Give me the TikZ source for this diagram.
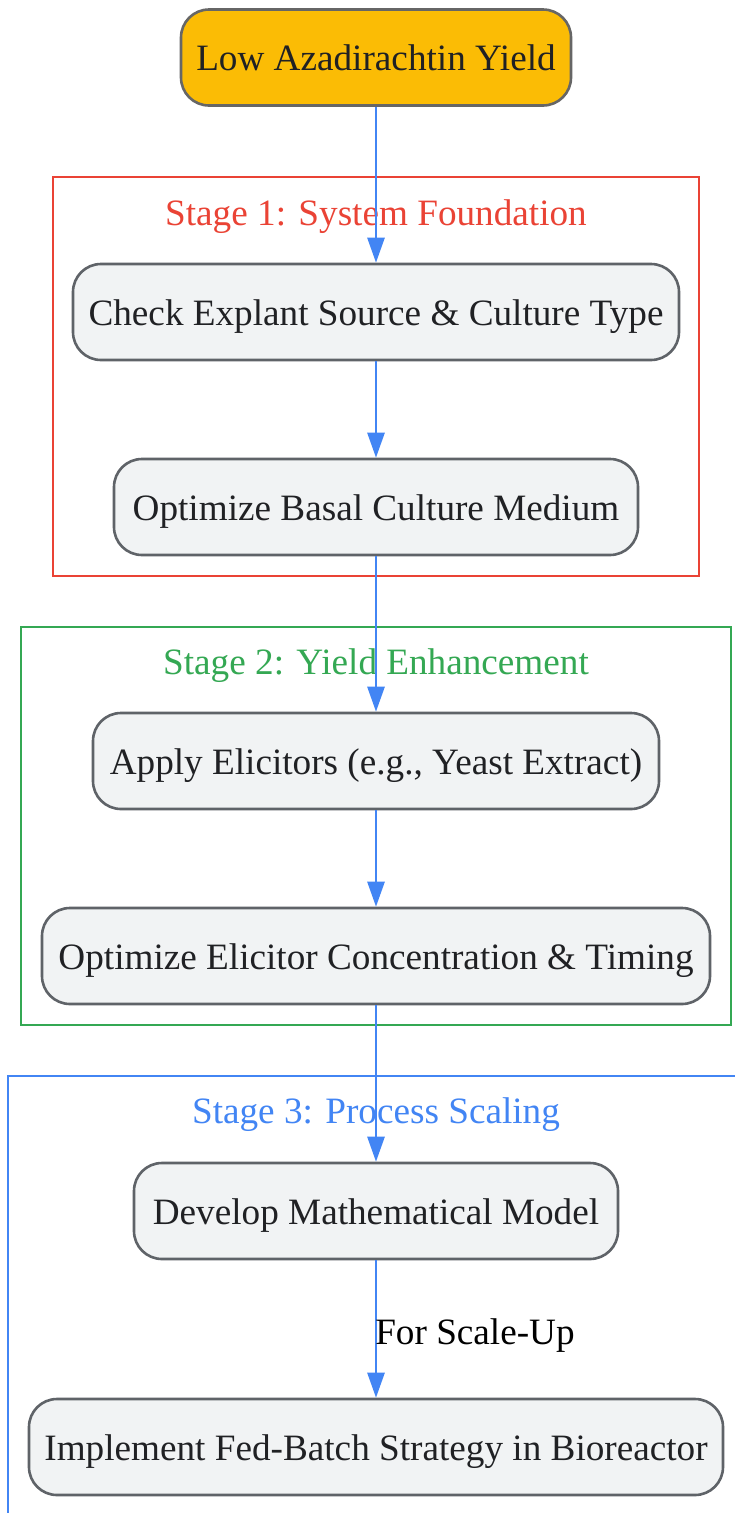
\documentclass[tikz,border=0pt]{standalone}
\usepackage{fontspec}
\setmainfont{Liberation Serif}
\usetikzlibrary{arrows.meta}
\definecolor{nodefill}{HTML}{F1F3F4}
\definecolor{nodedraw}{HTML}{5F6368}
\definecolor{startdraw}{HTML}{666666}
\definecolor{txt}{HTML}{202124}
\definecolor{gold}{HTML}{FBBC05}
\definecolor{sred}{HTML}{EA4335}
\definecolor{sgreen}{HTML}{34A853}
\definecolor{sblue}{HTML}{4285F4}
\begin{document}
\begin{tikzpicture}[x=1pt,y=-1pt,
  font=\fontsize{37.2}{44}\selectfont,
  box/.style={draw=nodedraw, line width=2.6pt, fill=nodefill, rounded corners=28pt,
    minimum height=96pt, inner sep=0pt, text=txt, text height=27pt, text depth=1pt},
  startbox/.style={box, fill=gold, draw=startdraw},
  stagebox/.style={line width=2.6pt},
  stagetitle/.style={inner sep=0pt},
  arr/.style={draw=sblue, line width=2.6pt, -{Triangle[length=25pt,width=17pt]}},
  elabel/.style={anchor=west, text=black, inner sep=0pt}]
\useasboundingbox (0,0) rectangle (735,1513);
\fill[white] (0,0) rectangle (735,1513);
% stages
\draw[stagebox, draw=sred] (53,177) rectangle (699,576);
\node[stagetitle, text=sred] (t1) at (376,217) {Stage 1: System Foundation};
\draw[stagebox, draw=sgreen] (21,627) rectangle (731,1025);
\node[stagetitle, text=sgreen] (t2) at (376,666) {Stage 2: Yield Enhancement};
\draw[stagebox, draw=sblue] (8,1076) rectangle (750,1540);
\node[stagetitle, text=sblue] (t3) at (376,1115) {Stage 3: Process Scaling};
% nodes
\node[startbox, minimum width=390pt] (n0) at (376,57.5) {Low Azadirachtin Yield};
\node[box, minimum width=606pt] (n1) at (376,312) {Check Explant Source \& Culture Type};
\node[box, minimum width=524pt] (n2) at (376,507) {Optimize Basal Culture Medium};
\node[box, minimum width=566pt] (n3) at (376,761) {Apply Elicitors (e.g., Yeast Extract)};
\node[box, minimum width=668pt] (n4) at (376,956) {Optimize Elicitor Concentration \& Timing};
\node[box, minimum width=484pt] (n5) at (376,1211) {Develop Mathematical Model};
\node[box, minimum width=694pt] (n6) at (376,1447) {Implement Fed-Batch Strategy in Bioreactor};
% edges
\draw[arr] (n0) -- (n1);
\draw[arr] (n1) -- (n2);
\draw[arr] (n2) -- (n3);
\draw[arr] (n3) -- (n4);
\draw[arr] (n4) -- (n5);
\draw[arr] (n5) -- node[elabel, xshift=-2pt, yshift=-7pt] {For Scale-Up} (n6);
\end{tikzpicture}
\end{document}
